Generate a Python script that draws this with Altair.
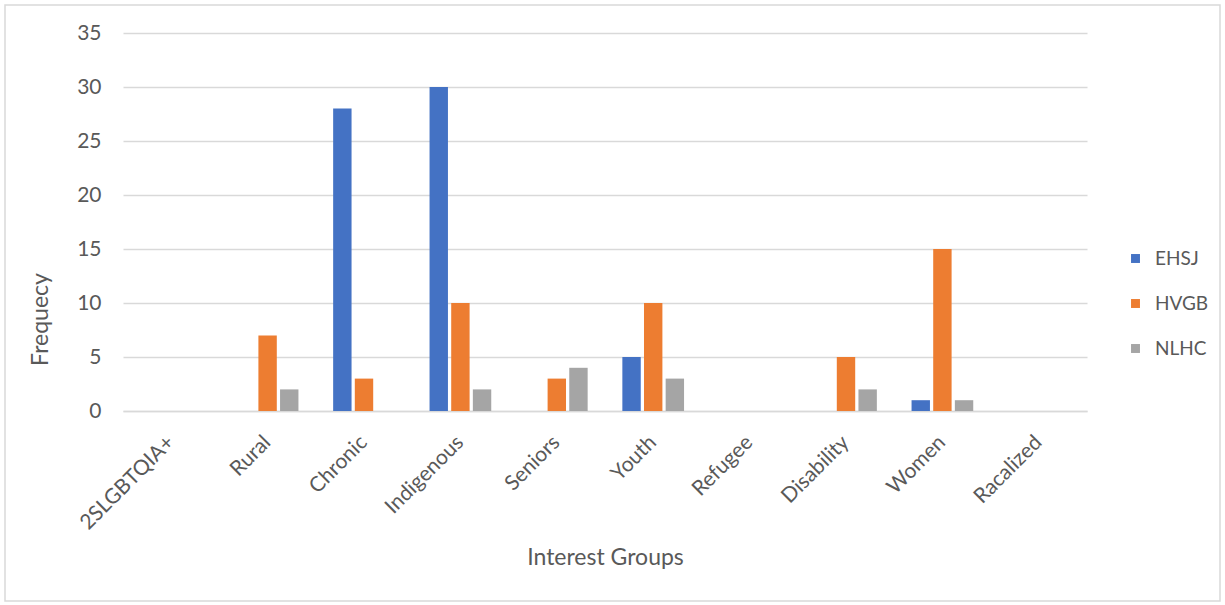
import altair as alt
import pandas as pd

# Interest groups along the x axis
groups = ["2SLGBTQIA+", "Rural", "Chronic", "Indigenous", "Seniors",
          "Youth", "Refugee", "Disability", "Women", "Racalized"]

# Frequency per organisation
ehsj = [0, 0, 28, 30, 0, 5, 0, 0, 1, 0]
hvgb = [0, 7, 3, 10, 3, 10, 0, 5, 15, 0]
nlhc = [0, 2, 0, 2, 4, 3, 0, 2, 1, 0]

series = ["EHSJ", "HVGB", "NLHC"]
colors = ["#4472C4", "#ED7D31", "#A5A5A5"]

rows = []
for name, vals in zip(series, [ehsj, hvgb, nlhc]):
    for g, v in zip(groups, vals):
        rows.append({"group": g, "org": name, "freq": v})
df = pd.DataFrame(rows)

FONT = "Lato"
TEXT = "#595959"
GRID = "#D9D9D9"
W, H = 964, 378

bars = alt.Chart(df).mark_bar().encode(
    x=alt.X("group:N", sort=groups,
            scale=alt.Scale(paddingInner=0.36, paddingOuter=0.18),
            axis=alt.Axis(title="Interest Groups", labelAngle=-45,
                          labelAlign="right", labelBaseline="middle",
                          labelFontSize=21, labelColor=TEXT, labelFont=FONT,
                          labelPadding=28, ticks=False, grid=False,
                          domainColor=GRID, domainWidth=1.5,
                          titleFontSize=23, titleFont=FONT, titleColor=TEXT,
                          titleFontWeight="normal",
                          titleY=146, titleBaseline="middle")),
    xOffset=alt.XOffset("org:N", sort=series,
                        scale=alt.Scale(paddingInner=0.15)),
    y=alt.Y("freq:Q", scale=alt.Scale(domain=[0, 35], nice=False),
            axis=alt.Axis(title="Frequecy", values=list(range(0, 36, 5)),
                          labelFontSize=21, labelColor=TEXT, labelFont=FONT,
                          labelPadding=22, ticks=False, domain=False,
                          gridColor=GRID, gridWidth=1.5,
                          titleFontSize=23, titleFont=FONT, titleColor=TEXT,
                          titleFontWeight="normal",
                          titleX=-83, titleY=286, titleAngle=270,
                          titleBaseline="middle")),
    color=alt.Color("org:N", sort=series,
                    scale=alt.Scale(domain=series, range=colors),
                    legend=alt.Legend(title=None, orient="none",
                                      legendX=1003, legendY=216,
                                      symbolType="square", symbolSize=80,
                                      symbolStrokeWidth=0,
                                      labelFontSize=19, labelFont=FONT,
                                      labelColor=TEXT, labelOffset=10,
                                      rowPadding=25)),
)

# Light frame around the whole figure
frame = alt.Chart(alt.Data(values=[{}])).mark_rect(
    filled=False, stroke=GRID, strokeWidth=1.5
).encode(
    x=alt.value(-118), x2=alt.value(W + 133),
    y=alt.value(-28), y2=alt.value(H + 190),
)

chart = alt.layer(bars, frame).properties(
    width=W, height=H,
    autosize="none",
    padding={"left": 123, "top": 33, "right": 138, "bottom": 194},
    background="white",
).configure_view(stroke=None)

chart.save("out.html", embed_options={"renderer": "svg", "actions": False})
